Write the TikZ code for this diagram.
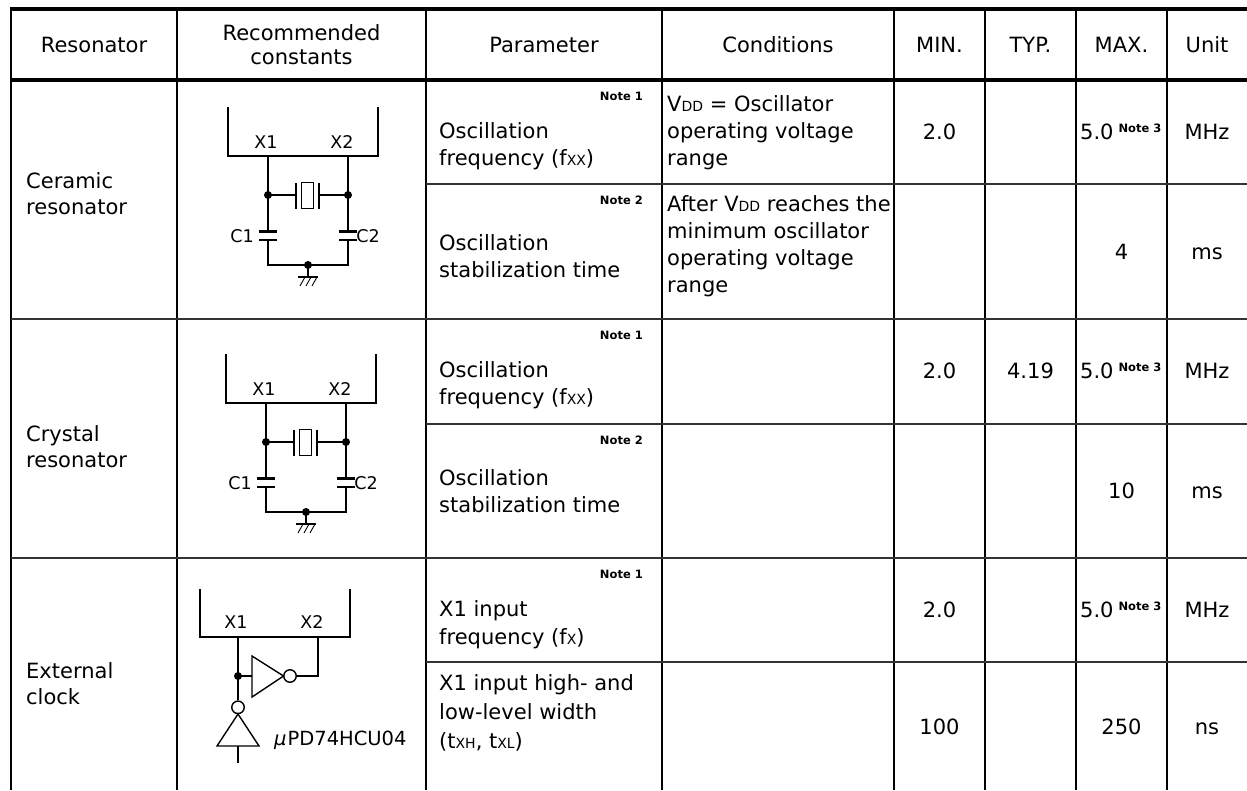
\documentclass[tikz,border=0pt]{standalone}
\usepackage{fontspec}
\setmainfont{DejaVu Sans}
\newcommand{\notefont}{\bfseries\fontsize{11.5}{13}\selectfont}
\newcommand{\sbs}[1]{{\fontsize{14}{14}\selectfont #1}}
\newcommand{\maxnote}{5.0\hspace{5pt}\raisebox{7pt}{\notefont Note 3}}
\newcommand{\resckt}[2]{%
\begin{scope}[shift={#2}]
 \draw[wire] (228,107) -- (228,156) -- (378,156) -- (378,107);
 \node[lbl] (#1X1) at (266,142) {X1};
 \node[lbl] (#1X2) at (342,142) {X2};
 \node[dot] (#1dl) at (268,195) {};
 \node[dot] (#1dr) at (348,195) {};
 \coordinate (#1b1) at (268,156);
 \coordinate (#1b2) at (348,156);
 \coordinate (#1c1t) at (268,231.5);
 \coordinate (#1c1b) at (268,240);
 \coordinate (#1c2t) at (348,231.5);
 \coordinate (#1c2b) at (348,240);
 \coordinate (#1xl) at (296,195);
 \coordinate (#1xr) at (319,195);
 \draw[wire] (#1b1) -- (#1dl.center) -- (#1c1t);
 \draw[wire] (#1b2) -- (#1dr.center) -- (#1c2t);
 \draw[wire] (#1dl.center) -- (#1xl);
 \draw[wire] (#1xr) -- (#1dr.center);
 \draw[plate] (296,182.5) -- (296,208.5) (319,182.5) -- (319,208.5);
 \draw[wire] (301.5,182.5) rectangle (313.5,208.5);
 \draw[plate] (259,231.5) -- (277,231.5) (259,240) -- (277,240);
 \draw[plate] (339,231.5) -- (357,231.5) (339,240) -- (357,240);
 \node[dot] (#1gd) at (308,265) {};
 \draw[wire] (#1c1b) -- (268,265) -- (348,265) -- (#1c2b);
 \coordinate (#1gb) at (308,277);
 \draw[wire] (#1gd.center) -- (#1gb);
 \draw[line width=2pt] (298,277) -- (318,277);
 \draw[line width=0.9pt] (305,277) -- (300,286) (311,277) -- (306,286) (317,277) -- (312,286);
 \node[lbl] (#1C1) at (242,236) {C1};
 \node[lbl] (#1C2) at (368,236) {C2};
\end{scope}}
\begin{document}
\begin{tikzpicture}[x=1pt,y=-1pt,
  vgrid/.style={line width=1.3pt},
  hgrid/.style={line width=1.8pt, draw=black!80},
  rule/.style={line width=3.2pt},
  wire/.style={line width=1.4pt},
  plate/.style={line width=2.6pt},
  txt/.style={inner sep=0pt, font=\fontsize{21}{25}\selectfont},
  note/.style={inner sep=0pt, font=\notefont},
  lbl/.style={inner sep=0pt, font=\fontsize{17.5}{20}\selectfont},
  dot/.style={circle, fill, inner sep=0pt, minimum size=8pt},
  bubble/.style={circle, draw, line width=1.4pt, inner sep=0pt, minimum size=12.5pt}
]
\fill[white] (0,0) rectangle (1247,790);
\useasboundingbox (0,0) rectangle (1247,790);
% ---------- grid ----------
\draw[rule] (9.5,9) -- (1247,9);
\draw[rule] (11,80) -- (1247,80);
\draw[line width=2.6pt] (11,7.5) -- (11,790);
\foreach \cx in {177,426,662,894,985,1076,1167}
  \draw[vgrid] (\cx,9) -- (\cx,790);
\draw[hgrid] (11,319) -- (1247,319);
\draw[hgrid] (11,558) -- (1247,558);
\foreach \my in {184,424,662}
  \draw[hgrid] (426,\my) -- (1247,\my);
% ---------- header ----------
\node[txt, anchor=base] (hRes) at (94,52) {Resonator};
\node[txt, anchor=base] (hRec1) at (301.5,40) {Recommended};
\node[txt, anchor=base] (hRec2) at (301.5,64) {constants};
\node[txt, anchor=base] (hPar) at (544,52) {Parameter};
\node[txt, anchor=base] (hCon) at (778,52) {Conditions};
\node[txt, anchor=base] (hMin) at (939.5,52) {MIN.};
\node[txt, anchor=base] (hTyp) at (1030.5,52) {TYP.};
\node[txt, anchor=base] (hMax) at (1121.5,52) {MAX.};
\node[txt, anchor=base] (hUnit) at (1207,52) {Unit};
% ---------- resonator labels ----------
\node[txt, anchor=base west] (rCer1) at (26,188) {Ceramic};
\node[txt, anchor=base west] (rCer2) at (26,214) {resonator};
\node[txt, anchor=base west] (rCry1) at (26,441) {Crystal};
\node[txt, anchor=base west] (rCry2) at (26,467) {resonator};
\node[txt, anchor=base west] (rExt1) at (26,678) {External};
\node[txt, anchor=base west] (rExt2) at (26,704) {clock};
% ---------- ceramic rows ----------
\node[note, anchor=base east] (n1a) at (643,100) {Note 1};
\node[txt, anchor=base west] (p1a) at (439,138) {Oscillation};
\node[txt, anchor=base west] (p1b) at (439,165) {frequency (f\sbs{XX})};
\node[txt, anchor=base west] (k1a) at (667,111) {V\sbs{DD} = Oscillator};
\node[txt, anchor=base west] (k1b) at (667,138) {operating voltage};
\node[txt, anchor=base west] (k1c) at (667,165) {range};
\node[txt, anchor=base] (v1min) at (939.5,139) {2.0};
\node[txt, anchor=base west] (v1max) at (1080,139) {\maxnote};
\node[txt, anchor=base] (v1u) at (1207,139) {MHz};
\node[note, anchor=base east] (n2a) at (643,204) {Note 2};
\node[txt, anchor=base west] (p2a) at (439,250) {Oscillation};
\node[txt, anchor=base west] (p2b) at (439,277) {stabilization time};
\node[txt, anchor=base west] (k2a) at (667,211) {After V\sbs{DD} reaches the};
\node[txt, anchor=base west] (k2b) at (667,238) {minimum oscillator};
\node[txt, anchor=base west] (k2c) at (667,265) {operating voltage};
\node[txt, anchor=base west] (k2d) at (667,292) {range};
\node[txt, anchor=base] (v2max) at (1121.5,259) {4};
\node[txt, anchor=base] (v2u) at (1207,259) {ms};
% ---------- crystal rows ----------
\node[note, anchor=base east] (n3a) at (643,339) {Note 1};
\node[txt, anchor=base west] (p3a) at (439,377) {Oscillation};
\node[txt, anchor=base west] (p3b) at (439,404) {frequency (f\sbs{XX})};
\node[txt, anchor=base] (v3min) at (939.5,378) {2.0};
\node[txt, anchor=base] (v3typ) at (1030.5,378) {4.19};
\node[txt, anchor=base west] (v3max) at (1080,378) {\maxnote};
\node[txt, anchor=base] (v3u) at (1207,378) {MHz};
\node[note, anchor=base east] (n4a) at (643,444) {Note 2};
\node[txt, anchor=base west] (p4a) at (439,485) {Oscillation};
\node[txt, anchor=base west] (p4b) at (439,512) {stabilization time};
\node[txt, anchor=base] (v4max) at (1121.5,498) {10};
\node[txt, anchor=base] (v4u) at (1207,498) {ms};
% ---------- external clock rows ----------
\node[note, anchor=base east] (n5a) at (643,578) {Note 1};
\node[txt, anchor=base west] (p5a) at (439,616) {X1 input};
\node[txt, anchor=base west] (p5b) at (439,644) {frequency (f\sbs{X})};
\node[txt, anchor=base] (v5min) at (939.5,617) {2.0};
\node[txt, anchor=base west] (v5max) at (1080,617) {\maxnote};
\node[txt, anchor=base] (v5u) at (1207,617) {MHz};
\node[txt, anchor=base west] (p6a) at (439,690) {X1 input high- and};
\node[txt, anchor=base west] (p6b) at (439,719) {low-level width};
\node[txt, anchor=base west] (p6c) at (439,748) {(t\sbs{XH}, t\sbs{XL})};
\node[txt, anchor=base] (v6min) at (939.5,734) {100};
\node[txt, anchor=base] (v6max) at (1121.5,734) {250};
\node[txt, anchor=base] (v6u) at (1207,734) {ns};
% ---------- circuits ----------
\resckt{ca}{(0,0)}
\resckt{cb}{(-2,247)}
% external clock
\draw[wire] (200,589) -- (200,637) -- (350,637) -- (350,589);
\node[lbl] (eX1) at (236,622) {X1};
\node[lbl] (eX2) at (312,622) {X2};
\coordinate (eb1) at (238,637);
\coordinate (eb2) at (318,637);
\node[dot] (edot) at (238,676) {};
\node[bubble] (ebv) at (238,707.3) {};
\node[bubble] (ebh) at (290,676) {};
\coordinate (eti) at (252,676);
\draw[wire] (eb1) -- (edot.center) -- (ebv.north);
\draw[wire] (edot.center) -- (eti);
\draw[wire] (252,656) -- (283.5,676) -- (252,697) -- cycle;
\draw[wire] (238,714) -- (259,746) -- (217,746) -- cycle;
\coordinate (ein) at (238,763);
\draw[wire] (238,746) -- (ein);
\draw[wire] (ebh.east) -- (318,676) -- (eb2);
\node[inner sep=0pt, anchor=west, font=\fontsize{19.5}{22}\selectfont] (eic) at (274,740) {{\itshape μ}\kern1ptPD74HCU04};
\end{tikzpicture}
\end{document}
